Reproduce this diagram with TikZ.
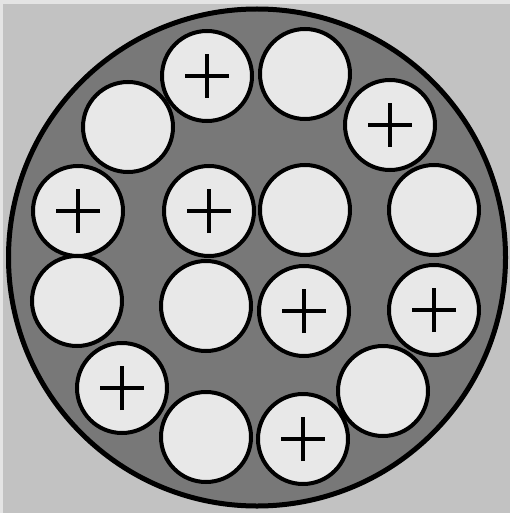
\documentclass[tikz,border=0pt]{standalone}
\usepackage{xcolor}
\usepackage{tikz}
\definecolor{backcol}{RGB}{194,194,194}
\definecolor{edgecol}{RGB}{228,228,228}
\definecolor{wellcol}{RGB}{120,120,120}
\definecolor{cellcol}{RGB}{232,232,232}

\tikzset{
  cell/.style={circle, draw=black, fill=cellcol, line width=4pt,
    minimum size=90pt, inner sep=0pt},
  pluscell/.style={cell, path picture={
    \draw[line width=4.5pt] ([xshift=-22pt]path picture bounding box.center)
      -- ([xshift=22pt]path picture bounding box.center);
    \draw[line width=4.5pt] ([yshift=-22pt]path picture bounding box.center)
      -- ([yshift=22pt]path picture bounding box.center);}}
}

\begin{document}
\begin{tikzpicture}[x=1pt,y=-1pt]
  % background and frame
  \fill[backcol] (0,0) rectangle (510,513);
  \fill[edgecol] (0,0) rectangle (510,4);
  \fill[edgecol] (0,0) rectangle (3,513);
  \useasboundingbox (0,0) rectangle (510,513);

  % outer well
  \node[circle, draw=black, fill=wellcol, line width=5pt, minimum size=497pt,
    inner sep=0pt] (well) at (257,257.5) {};

  % cells with a plus
  \foreach \x/\y [count=\i] in {207/76, 390/125, 78/211, 209/211,
      304/311, 434/310, 122/388, 303/439}
    \node[pluscell] (p\i) at (\x,\y) {};

  % empty cells
  \foreach \x/\y [count=\i] in {305/74, 128/127, 305/210, 434/210,
      77/301, 206/306, 383/391, 206/437}
    \node[cell] (e\i) at (\x,\y) {};
\end{tikzpicture}
\end{document}
